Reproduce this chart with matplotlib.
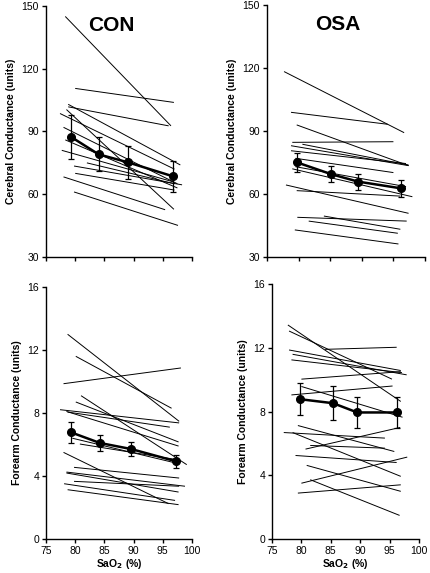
import matplotlib
matplotlib.use("Agg")
import matplotlib.pyplot as plt

plt.rcParams['font.family'] = ['Liberation Sans', 'DejaVu Sans']

# ---- mean data ----
sao2_con_cer = [79.3, 84.0, 89.1, 96.7]
mean_con_cer = [87.4, 79.1, 75.2, 68.6]
err_con_cer = [10.7, 8.2, 7.7, 7.5]

sao2_osa_cer = [79.7, 85.2, 89.4, 96.2]
mean_osa_cer = [75.1, 69.4, 65.9, 62.7]
err_osa_cer = [4.4, 3.8, 3.8, 4.0]

sao2_con_fa = [79.3, 84.2, 89.6, 97.3]
mean_con_fa = [6.77, 6.10, 5.71, 4.93]
err_con_fa = [0.65, 0.50, 0.47, 0.43]

sao2_osa_fa = [79.8, 85.4, 89.5, 96.3]
mean_osa_fa = [8.77, 8.52, 7.94, 7.94]
err_osa_fa = [1.0, 1.05, 0.97, 1.0]

# ---- individual regression lines (start x, start y, end x, end y) ----
con_cer_x0 = [78.3, 80.0, 78.8, 78.8, 78.5, 77.4, 78.0, 78.3, 79.8, 80.0, 78.0, 79.8, 82.0, 77.7]
con_cer_y0 = [145.0, 110.6, 101.8, 103.0, 100.5, 98.6, 92.0, 86.0, 73.5, 70.0, 68.3, 61.1, 75.0, 81.0]
con_cer_x1 = [96.4, 96.9, 96.0, 98.0, 96.9, 97.0, 97.5, 97.5, 98.3, 97.0, 95.4, 97.6, 97.0, 96.7]
con_cer_y1 = [92.7, 103.9, 92.7, 74.0, 52.8, 72.0, 65.0, 63.0, 64.5, 62.0, 52.6, 45.1, 65.0, 66.0]

osa_cer_x0 = [77.7, 78.8, 79.7, 79.0, 78.8, 80.6, 78.8, 79.5, 79.5, 79.0, 78.0, 79.7, 79.8, 84.0, 81.6, 79.4]
osa_cer_y0 = [118.3, 98.9, 92.9, 84.6, 83.0, 83.7, 80.6, 77.0, 73.0, 72.0, 64.3, 61.6, 48.9, 49.5, 47.1, 42.9]
osa_cer_x1 = [96.7, 94.1, 97.4, 95.0, 97.4, 97.4, 97.0, 95.0, 97.0, 98.0, 97.4, 96.1, 97.1, 96.1, 95.7, 95.8]
osa_cer_y1 = [89.2, 93.2, 73.5, 84.9, 73.5, 73.8, 74.5, 70.2, 63.5, 58.7, 50.8, 59.0, 47.1, 43.2, 41.3, 36.2]

con_fa_x0 = [78.7, 80.1, 78.0, 81.0, 80.1, 77.4, 78.7, 78.5, 80.8, 79.5, 78.0, 78.5, 79.8, 78.5, 78.1, 78.7, 79.8]
con_fa_y0 = [13.0, 11.6, 9.86, 9.1, 8.7, 8.21, 8.06, 8.1, 6.03, 6.4, 5.5, 4.25, 4.55, 4.19, 3.51, 3.13, 3.66]
con_fa_x1 = [97.8, 96.5, 98.1, 99.1, 97.7, 97.8, 96.2, 97.7, 97.4, 97.5, 96.0, 98.8, 97.8, 97.7, 97.1, 97.7, 97.8]
con_fa_y1 = [7.47, 8.3, 10.86, 4.72, 6.16, 7.37, 7.1, 5.9, 5.04, 4.8, 2.24, 3.35, 3.87, 2.98, 2.45, 2.18, 3.35]

osa_fa_x0 = [77.7, 77.9, 77.9, 78.5, 78.3, 84.0, 80.0, 78.3, 80.0, 79.4, 77.0, 78.5, 80.7, 81.5, 79.0, 80.9, 80.0, 81.5, 79.4]
osa_fa_y0 = [13.43, 13.05, 11.86, 11.59, 11.24, 11.9, 10.03, 9.04, 9.57, 7.12, 6.68, 6.68, 5.64, 5.87, 5.24, 4.62, 3.5, 3.72, 2.88]
osa_fa_x1 = [96.9, 95.4, 96.9, 97.9, 97.1, 96.2, 96.9, 95.5, 97.2, 95.8, 94.2, 96.9, 96.8, 94.2, 96.2, 96.9, 98.0, 96.7, 96.9]
osa_fa_y1 = [8.63, 10.03, 10.57, 10.3, 10.44, 12.03, 10.5, 9.6, 7.64, 5.49, 6.33, 3.93, 7.0, 5.7, 4.8, 2.99, 5.14, 1.48, 3.4]

cer_ticks = [30, 60, 90, 120, 150]
fa_ticks = [0, 4, 8, 12, 16]
x_ticks = [75, 80, 85, 90, 95, 100]

W, H = 430, 573
fig = plt.figure(figsize=(W / 100, H / 100), dpi=100)

def add_ax(x0, x1, ytop, ybot):
    return fig.add_axes([x0 / W, 1 - ybot / H, (x1 - x0) / W, (ybot - ytop) / H])

ax_tl = add_ax(46, 192, 6, 257)
ax_tr = add_ax(267, 425, 5, 257)
ax_bl = add_ax(46, 192, 287, 539)
ax_br = add_ax(272, 419, 284, 539)

panels = [
    (ax_tl, con_cer_x0, con_cer_y0, con_cer_x1, con_cer_y1, sao2_con_cer, mean_con_cer, err_con_cer,
     cer_ticks, 'Cerebral Conductance (units)', 'CON', False),
    (ax_tr, osa_cer_x0, osa_cer_y0, osa_cer_x1, osa_cer_y1, sao2_osa_cer, mean_osa_cer, err_osa_cer,
     cer_ticks, 'Cerebral Conductance (units)', 'OSA', False),
    (ax_bl, con_fa_x0, con_fa_y0, con_fa_x1, con_fa_y1, sao2_con_fa, mean_con_fa, err_con_fa,
     fa_ticks, 'Forearm Conductance (units)', None, True),
    (ax_br, osa_fa_x0, osa_fa_y0, osa_fa_x1, osa_fa_y1, sao2_osa_fa, mean_osa_fa, err_osa_fa,
     fa_ticks, 'Forearm Conductance (units)', None, True),
]

for (ax, x0, y0, x1, y1, mx, my, me, yt, ylab, title, xlab) in panels:
    for a, b, c, d in zip(x0, y0, x1, y1):
        ax.plot([a, c], [b, d], color='black', lw=0.7, solid_capstyle='butt')
    ax.errorbar(mx, my, yerr=me, color='black', lw=1.8, marker='o', ms=5.5,
                elinewidth=0.9, capsize=2.5, capthick=0.9, zorder=5)
    ax.set_xlim(75, 100)
    ax.set_ylim(yt[0], yt[-1])
    ax.set_yticks(yt)
    ax.set_xticks(x_ticks)
    for s in ['top', 'right']:
        ax.spines[s].set_visible(False)
    for s in ['left', 'bottom']:
        ax.spines[s].set_linewidth(1.0)
    ax.tick_params(direction='out', length=3, width=1.0, labelsize=7.5, pad=2)
    ax.set_ylabel(ylab, fontsize=7.5, fontweight='bold', labelpad=4)
    if xlab:
        ax.set_xlabel(r'SaO$_\mathbf{2}$ (%)', fontsize=7.5, fontweight='bold', labelpad=1)
    else:
        ax.tick_params(labelbottom=False)
    if title:
        ax.text(0.45, 0.96, title, transform=ax.transAxes, ha='center', va='top',
                fontsize=15, fontweight='bold')

fig.savefig('out.png', dpi=100)
